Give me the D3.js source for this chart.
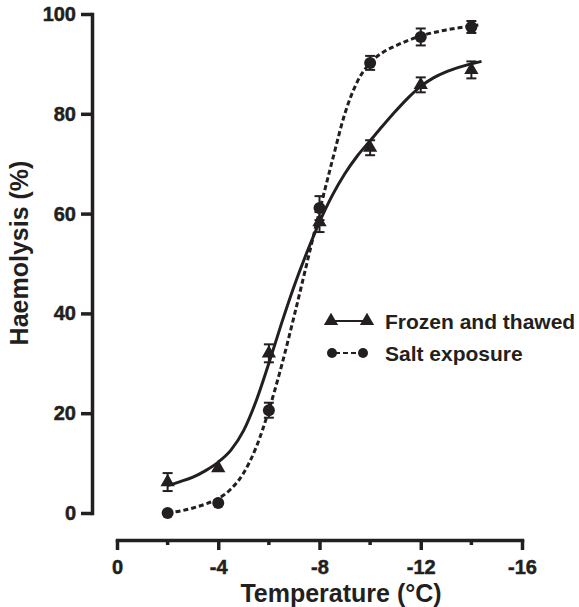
<!DOCTYPE html>
<html>
<head>
<meta charset="utf-8">
<script src="https://cdn.jsdelivr.net/npm/d3@7"></script>
<style>
  body { margin: 0; background: #fff; }
  svg { display: block; font-family: "Liberation Sans", Arial, Helvetica, sans-serif; }
  .tick text { font-weight: bold; }
</style>
</head>
<body>
<svg id="chart" width="579" height="607"></svg>
<script>
// measured points (temperature in °C)
const temps = [-2, -4, -6, -8, -10, -12, -14];
const frozenMean = [6.2, 9.0, 32, 58.3, 73.2, 85.8, 88.8];
const frozenErr = [1.8, 0, 1.8, 2.0, 1.5, 1.5, 1.7];
const saltMean = [0, 2.0, 20.6, 61.1, 90.2, 95.4, 97.4];
const saltErr = [0, 0, 1.5, 2.4, 1.4, 1.7, 1.2];

// fitted curves
const frozenFitT = [-2, -2.5, -3, -3.5, -4, -4.5, -5, -5.5, -6, -6.5, -7, -7.5, -8, -8.5, -9, -9.5, -10, -10.5, -11, -11.5, -12, -12.5, -13, -13.5, -14.4];
const frozenFitY = [5.5, 6.3, 7.2, 8.5, 10.2, 12.6, 16.5, 22.5, 30.0, 38.0, 45.5, 52.2, 58.3, 63.6, 68.0, 71.6, 74.6, 77.6, 80.5, 83.2, 85.5, 87.2, 88.4, 89.3, 90.5];
const saltFitT = [-2, -2.5, -3, -3.5, -4, -4.5, -5, -5.5, -6, -6.5, -7, -7.5, -8, -8.5, -9, -9.5, -10, -10.5, -11, -12, -13, -14.3];
const saltFitY = [0, 0.4, 1.0, 1.8, 2.9, 4.8, 8.0, 13.2, 20.6, 29.5, 39.5, 50.0, 60.5, 70.5, 80.0, 86.5, 90.2, 92.3, 93.6, 95.6, 96.8, 97.8];

const xTicks = [0, -4, -8, -12, -16];
const xMinor = [-2, -6, -10, -14];
const yTicks = [0, 20, 40, 60, 80, 100];

const ink = '#231f20';
const svg = d3.select('#chart');

const x = d3.scaleLinear().domain([0, -16]).range([117, 522]);
const y = d3.scaleLinear().domain([0, 100]).range([513, 14]);

// y axis
const yAxis = svg.append('g')
    .attr('transform', 'translate(92,0)')
    .call(d3.axisLeft(y).tickValues(yTicks).tickSize(11).tickSizeOuter(0).tickPadding(5));

// x axis with minor ticks
const xAxis = svg.append('g')
    .attr('transform', 'translate(0,540)')
    .call(d3.axisBottom(x).tickValues(xTicks).tickSize(10).tickSizeOuter(0).tickPadding(10)
        .tickFormat(d => d === 0 ? '0' : String(d)));

xAxis.selectAll('.minor')
    .data(xMinor)
    .enter()
    .append('line')
    .attr('class', 'minor')
    .attr('x1', d => x(d))
    .attr('x2', d => x(d))
    .attr('y1', 0)
    .attr('y2', 5);

[yAxis, xAxis].forEach(g => {
    g.attr('font-size', 20).attr('font-weight', 'bold').attr('font-family', '"Liberation Sans", Arial, sans-serif');
    g.select('.domain').attr('stroke', ink).attr('stroke-width', 3.5).attr('stroke-linecap', 'square');
    g.selectAll('line').attr('stroke', ink).attr('stroke-width', 3.5);
    // slightly heavier glyphs, like the original print
    g.selectAll('text').attr('fill', ink).attr('stroke', ink).attr('stroke-width', 0.5);
});

// axis titles
svg.append('text')
    .attr('x', 341)
    .attr('y', 602)
    .attr('text-anchor', 'middle')
    .attr('fill', ink)
    .style('font-size', '25px')
    .style('font-weight', 'bold')
    .text('Temperature (°C)');

svg.append('text')
    .attr('transform', 'translate(28,253) rotate(-90)')
    .attr('text-anchor', 'middle')
    .attr('fill', ink)
    .style('font-size', '25px')
    .style('font-weight', 'bold')
    .text('Haemolysis (%)');

// fitted curves
const line = d3.line()
    .x(d => x(d[0]))
    .y(d => y(d[1]))
    .curve(d3.curveMonotoneX);

svg.append('path')
    .datum(d3.zip(frozenFitT, frozenFitY))
    .attr('d', line)
    .attr('fill', 'none')
    .attr('stroke', ink)
    .attr('stroke-width', 3);

svg.append('path')
    .datum(d3.zip(saltFitT, saltFitY))
    .attr('d', line)
    .attr('fill', 'none')
    .attr('stroke', ink)
    .attr('stroke-width', 3)
    .attr('stroke-dasharray', '5,3');

// error bars
function drawErrors(means, errs) {
    const g = svg.append('g').attr('stroke', ink).attr('stroke-width', 2);
    temps.forEach((t, i) => {
        if (!errs[i]) return;
        const lo = y(means[i] - errs[i]), hi = y(means[i] + errs[i]);
        g.append('line').attr('x1', x(t)).attr('x2', x(t)).attr('y1', lo).attr('y2', hi);
        g.append('line').attr('x1', x(t) - 5).attr('x2', x(t) + 5).attr('y1', lo).attr('y2', lo);
        g.append('line').attr('x1', x(t) - 5).attr('x2', x(t) + 5).attr('y1', hi).attr('y2', hi);
    });
}
drawErrors(frozenMean, frozenErr);
drawErrors(saltMean, saltErr);

// markers
const tri = d3.symbol().type(d3.symbolTriangle).size(88);

svg.append('g')
    .selectAll('path')
    .data(d3.zip(temps, frozenMean))
    .enter()
    .append('path')
    .attr('d', tri)
    .attr('transform', d => `translate(${x(d[0])},${y(d[1])})`)
    .attr('fill', ink);

svg.append('g')
    .selectAll('circle')
    .data(d3.zip(temps, saltMean))
    .enter()
    .append('circle')
    .attr('cx', d => x(d[0]))
    .attr('cy', d => y(d[1]))
    .attr('r', 6)
    .attr('fill', ink);

// legend
const legend = svg.append('g');
legend.append('line')
    .attr('x1', 331).attr('x2', 367).attr('y1', 321).attr('y2', 321)
    .attr('stroke', ink).attr('stroke-width', 2);
[331, 367].forEach(lx => {
    legend.append('path').attr('d', tri).attr('transform', `translate(${lx},321)`).attr('fill', ink);
});
legend.append('line')
    .attr('x1', 332).attr('x2', 363).attr('y1', 353).attr('y2', 353)
    .attr('stroke', ink).attr('stroke-width', 2).attr('stroke-dasharray', '5,3')
    .attr('stroke-dashoffset', -3);
[332, 363].forEach(lx => {
    legend.append('circle').attr('cx', lx).attr('cy', 353).attr('r', 5).attr('fill', ink);
});
legend.selectAll('text')
    .data(['Frozen and thawed', 'Salt exposure'])
    .enter()
    .append('text')
    .attr('x', 385)
    .attr('y', (d, i) => 329 + i * 32)
    .attr('fill', ink)
    .style('font-size', '21px')
    .style('font-weight', 'bold')
    .text(d => d);
</script>
</body>
</html>
